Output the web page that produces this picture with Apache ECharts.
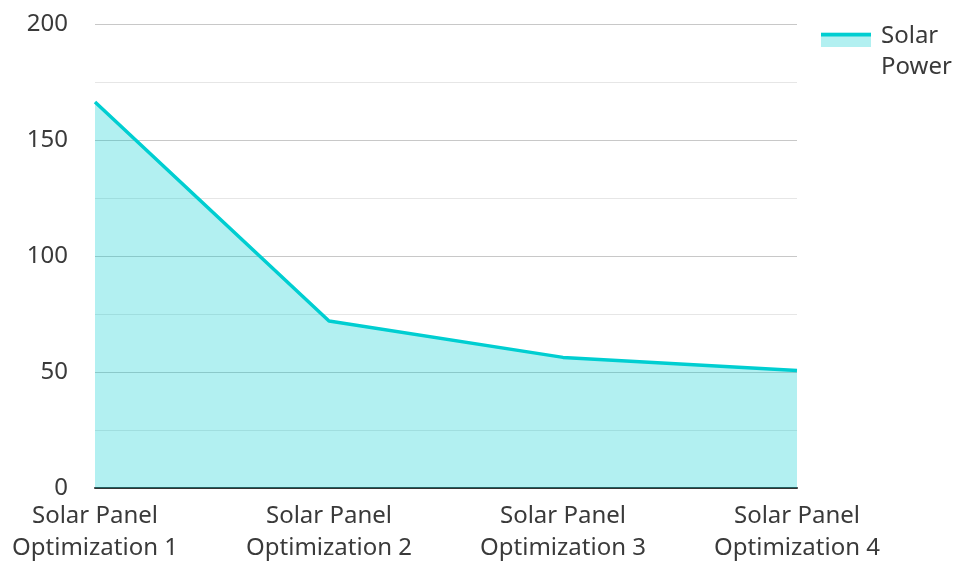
<!DOCTYPE html>
<html>
<head>
<meta charset="utf-8">
<script src="https://cdn.jsdelivr.net/npm/echarts@6/dist/echarts.min.js"></script>
<style>
  html, body { margin: 0; padding: 0; background: #fff; overflow: hidden; }
  #chart { width: 954px; height: 564px; }
</style>
</head>
<body>
<div id="chart"></div>
<script>
// Solar power output after each optimization step
const categories = [
  'Solar Panel Optimization 1',
  'Solar Panel Optimization 2',
  'Solar Panel Optimization 3',
  'Solar Panel Optimization 4'
];
const solarPower = [166.4, 72, 56.3, 50.6];
const seriesName = 'Solar Power';

const lineColor = '#00CED1';
const areaColor = 'rgba(0,206,209,0.3)';
const textColor = '#3a3a3a';
const fontFamily = '"Noto Sans", "Open Sans", sans-serif';

const chart = echarts.init(document.getElementById('chart'), null, { renderer: 'canvas' });

chart.setOption({
  animation: false,
  grid: { left: 95, top: 24, width: 702, height: 467 },
  legend: {
    data: [seriesName],
    left: 821,
    top: 3.5,
    padding: 0,
    orient: 'vertical',
    icon: 'rect',
    itemWidth: 50,
    itemHeight: 15,
    selectedMode: false,
    itemStyle: { color: areaColor, opacity: 1, borderWidth: 0 },
    // spacer line on top keeps the first word level with the legend swatch
    formatter: name => '{gap| }\n' + name.split(' ').map(w => '{w|' + w + '}').join('\n'),
    textStyle: {
      fontFamily: fontFamily,
      fontSize: 24,
      color: textColor,
      rich: {
        gap: { fontSize: 10, lineHeight: 24 },
        w: { fontFamily: fontFamily, fontSize: 24, color: textColor, lineHeight: 31, padding: [0, 0, 0, 5] }
      }
    }
  },
  xAxis: {
    type: 'category',
    data: categories,
    boundaryGap: false,
    axisLine: { lineStyle: { color: '#333', width: 2 } },
    axisTick: { show: false },
    axisLabel: {
      fontFamily: fontFamily,
      fontSize: 24,
      color: textColor,
      lineHeight: 32,
      margin: 12,
      formatter: v => v.replace('Panel ', 'Panel\n')
    },
    splitLine: { show: false }
  },
  yAxis: {
    type: 'value',
    min: 0,
    max: 200,
    interval: 50,
    axisLine: { show: false },
    axisTick: { show: false },
    axisLabel: {
      fontFamily: fontFamily,
      fontSize: 24,
      color: textColor,
      margin: 27
    },
    splitLine: { lineStyle: { color: '#c8c8c8', width: 1 } },
    minorTick: { show: false, splitNumber: 2 },
    minorSplitLine: { show: true, lineStyle: { color: '#e6e6e6', width: 1 } }
  },
  series: [{
    name: seriesName,
    type: 'line',
    data: solarPower,
    showSymbol: false,
    symbol: 'none',
    lineStyle: { color: lineColor, width: 3.5 },
    itemStyle: { color: lineColor },
    areaStyle: { color: areaColor, opacity: 1, origin: 'start' },
    z: 1
  }],
  graphic: [{
    type: 'rect',
    id: 'legendStroke',
    left: 821,
    top: 33,
    shape: { width: 50, height: 3.5 },
    style: { fill: lineColor },
    z: 100
  }]
});
</script>
</body>
</html>
